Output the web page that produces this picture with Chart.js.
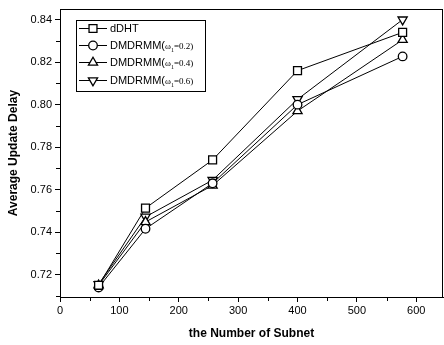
<!DOCTYPE html>
<html>
<head>
<meta charset="utf-8">
<script src="https://cdn.jsdelivr.net/npm/chart.js@4.4.1/dist/chart.umd.min.js"></script>
<style>
    html, body { margin: 0; padding: 0; background: #fff; }
    #wrap { width: 444px; height: 345px; }
</style>
</head>
<body>
<div id="wrap"><canvas id="delayChart"></canvas></div>
<script>
// 子网数量
const subnets = [65, 144, 257, 400, 577];
// 各方案平均更新延迟
const dDHT = [0.715, 0.7513, 0.7740, 0.8160, 0.8340];
const omega02 = [0.7140, 0.7416, 0.7630, 0.8000, 0.8227];
const omega04 = [0.7150, 0.7448, 0.7620, 0.7970, 0.8305];
const omega06 = [0.7155, 0.7472, 0.7645, 0.8025, 0.8400];
const seriesNames = ['dDHT', 'DMDRMM', 'DMDRMM', 'DMDRMM'];
const omegaLabels = [null, '0.2', '0.4', '0.6'];
// 坐标轴刻度
const xTicks = [0, 100, 200, 300, 400, 500, 600];
const xMinorTicks = [50, 150, 250, 350, 450, 550];
const yTicks = [0.72, 0.74, 0.76, 0.78, 0.80, 0.82, 0.84];
const yMinorTicks = [0.71, 0.73, 0.75, 0.77, 0.79, 0.81, 0.83];

const markers = [
    { style: 'rect', radius: 5.6, rotation: 0 },
    { style: 'circle', radius: 4.3, rotation: 0 },
    { style: 'triangle', radius: 5.3, rotation: 0 },
    { style: 'triangle', radius: 5.3, rotation: 180 }
];

function toPoints(ys) {
    return ys.map((y, i) => ({ x: subnets[i], y: y }));
}

function makeDataset(label, ys, m) {
    return {
        label: label,
        data: toPoints(ys),
        borderColor: '#000',
        borderWidth: 1,
        backgroundColor: '#fff',
        pointStyle: m.style,
        pointRadius: m.radius,
        pointRotation: m.rotation,
        pointBorderColor: '#000',
        pointBackgroundColor: '#fff',
        pointBorderWidth: 1.3,
        tension: 0,
        fill: false,
        clip: false
    };
}

// 次刻度与外框
const framePlugin = {
    id: 'frame',
    afterDraw(chart) {
        const ctx = chart.ctx;
        const a = chart.chartArea;
        const xs = chart.scales.x;
        const ys = chart.scales.y;
        ctx.save();
        ctx.strokeStyle = '#000';
        ctx.lineWidth = 1;
        ctx.beginPath();
        ctx.moveTo(a.left, a.top + 0.5);
        ctx.lineTo(a.right, a.top + 0.5);
        ctx.moveTo(a.right - 0.5, a.top);
        ctx.lineTo(a.right - 0.5, a.bottom);
        xMinorTicks.forEach(v => {
            const px = Math.round(xs.getPixelForValue(v)) + 0.5;
            ctx.moveTo(px, a.bottom);
            ctx.lineTo(px, a.bottom + 4);
        });
        yMinorTicks.forEach(v => {
            const py = Math.round(ys.getPixelForValue(v)) + 0.5;
            ctx.moveTo(a.left - 4, py);
            ctx.lineTo(a.left, py);
        });
        ctx.stroke();
        ctx.restore();
    }
};

// 图内图例
const legendPlugin = {
    id: 'innerLegend',
    afterDraw(chart) {
        const ctx = chart.ctx;
        const left = 76, top = 20, w = 129, h = 71;
        ctx.save();
        ctx.strokeStyle = '#000';
        ctx.lineWidth = 1;
        ctx.strokeRect(left + 0.5, top + 0.5, w, h);
        const rowY = [28, 45, 62, 80];
        chart.data.datasets.forEach((ds, i) => {
            const y = rowY[i];
            ctx.beginPath();
            ctx.moveTo(79, y + 0.5);
            ctx.lineTo(107, y + 0.5);
            ctx.strokeStyle = '#000';
            ctx.lineWidth = 1;
            ctx.stroke();
            ctx.fillStyle = '#fff';
            ctx.strokeStyle = '#000';
            ctx.lineWidth = 1.3;
            Chart.helpers.drawPoint(ctx, {
                pointStyle: markers[i].style,
                rotation: markers[i].rotation,
                radius: markers[i].radius,
                borderWidth: 1.3
            }, 93, y + 0.5);
            ctx.fillStyle = '#000';
            ctx.textBaseline = 'middle';
            ctx.textAlign = 'left';
            ctx.font = '11px "Liberation Sans", Arial, sans-serif';
            let x = 110;
            const name = seriesNames[i];
            if (!omegaLabels[i]) {
                ctx.fillText(name, x, y + 1);
                return;
            }
            ctx.fillText(name + '(', x, y + 1);
            x += ctx.measureText(name + '(').width;
            ctx.font = '9px "Liberation Serif", "Times New Roman", serif';
            ctx.fillText('\u03c9', x, y + 2);
            x += ctx.measureText('\u03c9').width;
            ctx.font = '6px "Liberation Serif", serif';
            ctx.fillText('1', x, y + 5);
            x += ctx.measureText('1').width;
            ctx.font = '9px "Liberation Serif", "Times New Roman", serif';
            ctx.fillText('=' + omegaLabels[i] + ')', x, y + 1.5);
        });
        ctx.restore();
    }
};

const ctx = document.getElementById('delayChart').getContext('2d');
new Chart(ctx, {
    type: 'line',
    data: {
        datasets: [
            makeDataset('dDHT', dDHT, markers[0]),
            makeDataset('DMDRMM(ω1=0.2)', omega02, markers[1]),
            makeDataset('DMDRMM(ω1=0.4)', omega04, markers[2]),
            makeDataset('DMDRMM(ω1=0.6)', omega06, markers[3])
        ]
    },
    options: {
        responsive: true,
        maintainAspectRatio: false,
        animation: false,
        layout: { autoPadding: false, padding: { top: 9, right: 1, left: 0, bottom: 0 } },
        plugins: {
            legend: { display: false },
            tooltip: { enabled: false }
        },
        scales: {
            x: {
                type: 'linear',
                min: 0,
                max: 645,
                afterBuildTicks: scale => { scale.ticks = xTicks.map(v => ({ value: v })); },
                afterFit: scale => {
                    scale.height = 48;
                    scale.paddingLeft = 0;
                    scale.paddingRight = 0;
                },
                grid: { display: true, drawOnChartArea: false, tickLength: 5, color: '#000' },
                border: { display: true, color: '#000', width: 1 },
                ticks: {
                    color: '#000',
                    padding: 2,
                    maxRotation: 0,
                    font: { family: '"Liberation Sans", Arial, sans-serif', size: 11 }
                },
                title: {
                    display: true,
                    text: 'the Number of Subnet',
                    color: '#000',
                    padding: { top: 0, bottom: 4 },
                    font: { family: '"Liberation Sans", Arial, sans-serif', size: 12, weight: 'bold' }
                }
            },
            y: {
                type: 'linear',
                min: 0.7095,
                max: 0.845,
                afterBuildTicks: scale => { scale.ticks = yTicks.map(v => ({ value: v })); },
                afterFit: scale => {
                    scale.width = 60;
                    scale.paddingTop = 0;
                    scale.paddingBottom = 0;
                },
                grid: { display: true, drawOnChartArea: false, tickLength: 5, color: '#000' },
                border: { display: true, color: '#000', width: 1 },
                ticks: {
                    color: '#000',
                    padding: 3,
                    callback: v => v.toFixed(2),
                    font: { family: '"Liberation Sans", Arial, sans-serif', size: 11 }
                },
                title: {
                    display: true,
                    text: 'Average Update Delay',
                    color: '#000',
                    padding: { top: 6, bottom: 0 },
                    font: { family: '"Liberation Sans", Arial, sans-serif', size: 12, weight: 'bold' }
                }
            }
        }
    },
    plugins: [framePlugin, legendPlugin]
});
</script>
</body>
</html>
